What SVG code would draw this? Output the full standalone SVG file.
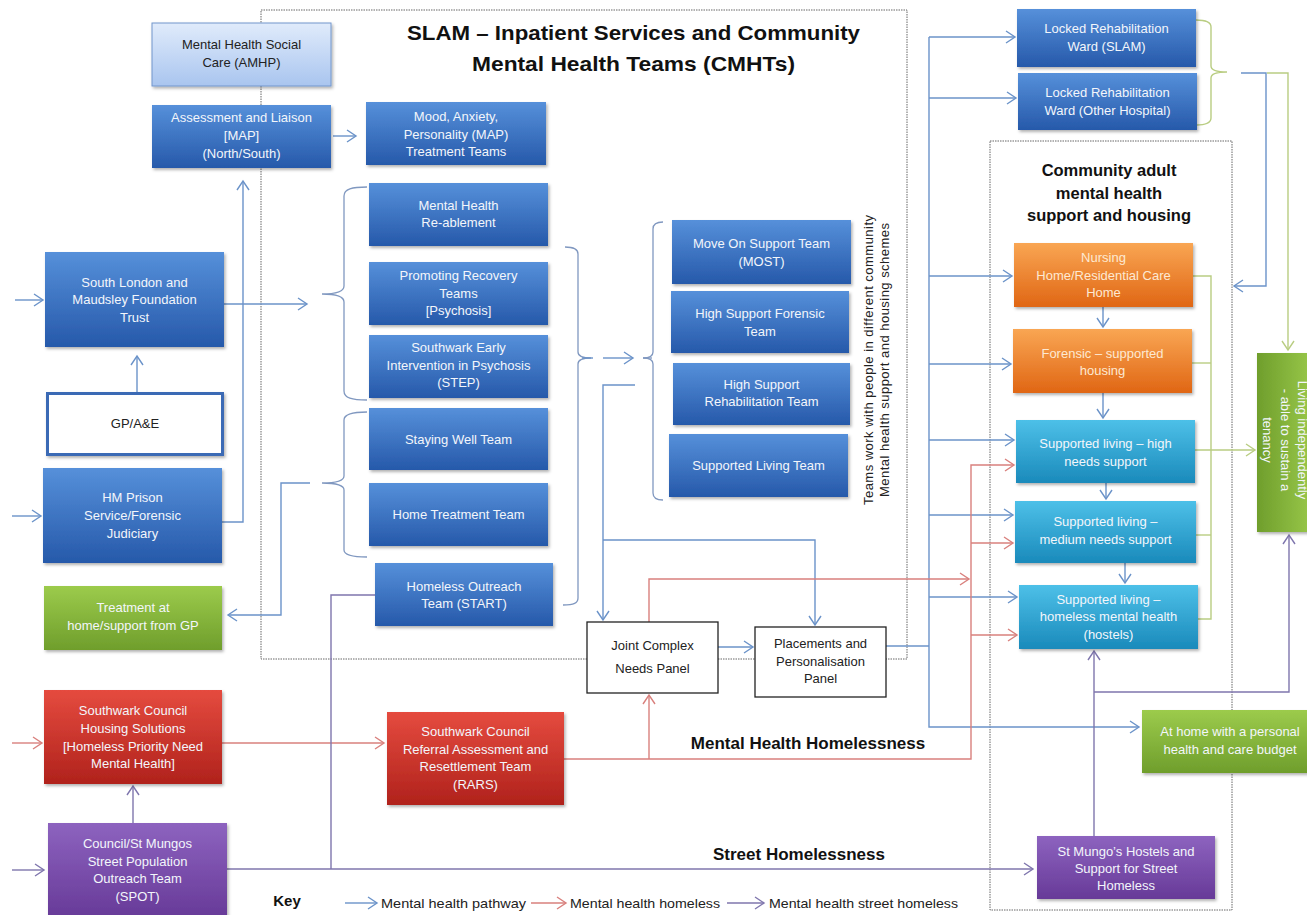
<svg xmlns="http://www.w3.org/2000/svg" width="1307" height="915" viewBox="0 0 1307 915">
<defs>
<linearGradient id="gB" x1="0" y1="0" x2="0" y2="1"><stop offset="0" stop-color="#5690da"/><stop offset="1" stop-color="#2659aa"/></linearGradient>
<linearGradient id="gL" x1="0" y1="0" x2="0" y2="1"><stop offset="0" stop-color="#e0ebfb"/><stop offset="1" stop-color="#a9c5ef"/></linearGradient>
<linearGradient id="gO" x1="0" y1="0" x2="0" y2="1"><stop offset="0" stop-color="#f9a653"/><stop offset="1" stop-color="#e06614"/></linearGradient>
<linearGradient id="gC" x1="0" y1="0" x2="0" y2="1"><stop offset="0" stop-color="#4dc0e8"/><stop offset="1" stop-color="#1a8abb"/></linearGradient>
<linearGradient id="gG" x1="0" y1="0" x2="0" y2="1"><stop offset="0" stop-color="#9ccb4c"/><stop offset="1" stop-color="#6f9e2c"/></linearGradient>
<linearGradient id="gGr" x1="1" y1="0" x2="0" y2="0"><stop offset="0" stop-color="#9ccb4c"/><stop offset="1" stop-color="#6f9e2c"/></linearGradient>
<linearGradient id="gR" x1="0" y1="0" x2="0" y2="1"><stop offset="0" stop-color="#e54b3f"/><stop offset="1" stop-color="#b0221c"/></linearGradient>
<linearGradient id="gP" x1="0" y1="0" x2="0" y2="1"><stop offset="0" stop-color="#8d63bf"/><stop offset="1" stop-color="#673a98"/></linearGradient>
<filter id="sh" x="-5%" y="-5%" width="115%" height="125%"><feDropShadow dx="1.5" dy="2" stdDeviation="1.5" flood-color="#000" flood-opacity="0.3"/></filter>
<marker id="aB" markerWidth="12" markerHeight="14" refX="10" refY="7" orient="auto" markerUnits="userSpaceOnUse"><path d="M1,1 L10,7 L1,13" fill="none" stroke="#6b93c9" stroke-width="1.4"/></marker>
<marker id="aR" markerWidth="12" markerHeight="14" refX="10" refY="7" orient="auto" markerUnits="userSpaceOnUse"><path d="M1,1 L10,7 L1,13" fill="none" stroke="#d9807d" stroke-width="1.4"/></marker>
<marker id="aP" markerWidth="12" markerHeight="14" refX="10" refY="7" orient="auto" markerUnits="userSpaceOnUse"><path d="M1,1 L10,7 L1,13" fill="none" stroke="#7f76ad" stroke-width="1.4"/></marker>
<marker id="aG" markerWidth="12" markerHeight="14" refX="10" refY="7" orient="auto" markerUnits="userSpaceOnUse"><path d="M1,1 L10,7 L1,13" fill="none" stroke="#b9cd82" stroke-width="1.4"/></marker>
<style>
.t{font-family:"Liberation Sans",Arial,sans-serif;font-size:13px;fill:#f3f6fb;text-anchor:middle}
.td{fill:#222}
.to{fill:#fde9d2}
.h{font-family:"Liberation Sans",Arial,sans-serif;font-weight:bold;fill:#111;text-anchor:middle}
.k{font-family:"Liberation Sans",Arial,sans-serif;font-size:13px;fill:#222}
.bx{filter:url(#sh)}
.dot{fill:none;stroke:#666;stroke-width:1;stroke-dasharray:1.5 1}
.cB{fill:none;stroke:#6b93c9;stroke-width:1.4}
.cR{fill:none;stroke:#d9807d;stroke-width:1.4}
.cP{fill:none;stroke:#7f76ad;stroke-width:1.4}
.cG{fill:none;stroke:#b9cd82;stroke-width:1.4}
.br{fill:none;stroke:#8098c0;stroke-width:1.3}
</style>
</defs>
<rect width="1307" height="915" fill="#fff"/>

<g id="frames">
<rect class="dot" x="261" y="10" width="646" height="649"/>
<rect class="dot" x="990" y="141" width="242" height="769"/>
</g>

<g id="headings">
<text class="h" font-size="21" x="633.5" y="40" textLength="453" lengthAdjust="spacingAndGlyphs">SLAM – Inpatient Services and Community</text>
<text class="h" font-size="21" x="633.5" y="71" textLength="323" lengthAdjust="spacingAndGlyphs">Mental Health Teams (CMHTs)</text>
<text class="h" font-size="16.5" x="1109" y="176">Community  adult</text>
<text class="h" font-size="16.5" x="1109" y="199">mental health</text>
<text class="h" font-size="16.5" x="1109" y="221">support and housing</text>
<text class="h" font-size="17" x="808" y="749">Mental Health Homelessness</text>
<text class="h" font-size="17" x="799" y="860">Street Homelessness</text>
<text class="t td" font-size="13" transform="rotate(-90 876 360)"><tspan x="876" y="356.5" textLength="290" lengthAdjust="spacing">Teams work with people in different community</tspan><tspan x="876" y="372.5" textLength="274" lengthAdjust="spacing">Mental health support and housing schemes</tspan></text>
</g>

<g id="connectors">
<path class="br" d="M367,187 C352,187 344,189 344,196 L344,286 C344,291 337,294 322,294 C337,294 344,297 344,302 L344,391 C344,398 352,400 367,400"/>
<path class="br" d="M367,412 C352,412 344,414 344,420 L344,476 C344,481 337,483 322,483 C337,483 344,486 344,490 L344,550 C344,555 352,557 367,557"/>
<path class="br" d="M565,247 C574,247 578,249 578,254 L578,352 C578,356 582,358 591,358 C582,358 578,360 578,364 L578,598 C578,603 574,605 563,605"/>
<path class="br" d="M663,222 C656,222 653,224 653,229 L653,352 C653,356 650,358 643,358 C650,358 653,360 653,364 L653,493 C653,498 656,500 663,500"/>
<path class="cG" d="M1196,20 C1206,20 1211,22 1211,27 L1211,66 C1211,70 1216,72 1227,72 C1216,72 1211,74 1211,78 L1211,118 C1211,123 1206,125 1196,125"/>
<path class="cB" d="M15,300 L43,300" marker-end="url(#aB)"/>
<path class="cB" d="M12,516 L41,516" marker-end="url(#aB)"/>
<path class="cB" d="M224,304 L307,304" marker-end="url(#aB)"/>
<path class="cB" d="M137,392 L137,356" marker-end="url(#aB)"/>
<path class="cB" d="M222,522 L243,522 L243,181" marker-end="url(#aB)"/>
<path class="cB" d="M333,136 L356,136" marker-end="url(#aB)"/>
<path class="cB" d="M310,483 L281,483 L281,615 L228,615" marker-end="url(#aB)"/>
<path class="cB" d="M603,358 L633,358" marker-end="url(#aB)"/>
<path class="cB" d="M582,358 L593,358"/>
<path class="br" d="M643,358 L652,358"/>
<path class="cB" d="M635,385 L603,385 L603,620" marker-end="url(#aB)"/>
<path class="cB" d="M603,540 L815,540 L815,625" marker-end="url(#aB)"/>
<path class="cB" d="M718,647 L753,647" marker-end="url(#aB)"/>
<path class="cB" d="M886,646 L929,646"/>
<path class="cB" d="M929,37 L929,727 L1139,727" marker-end="url(#aB)"/>
<path class="cB" d="M929,37 L1015,37" marker-end="url(#aB)"/>
<path class="cB" d="M929,98 L1016,98" marker-end="url(#aB)"/>
<path class="cB" d="M929,276 L1012,276" marker-end="url(#aB)"/>
<path class="cB" d="M929,364 L1011,364" marker-end="url(#aB)"/>
<path class="cB" d="M929,440 L1014,440" marker-end="url(#aB)"/>
<path class="cB" d="M929,515 L1013,515" marker-end="url(#aB)"/>
<path class="cB" d="M929,597 L1017,597" marker-end="url(#aB)"/>
<path class="cB" d="M1103,307 L1103,327" marker-end="url(#aB)"/>
<path class="cB" d="M1103,393 L1103,418" marker-end="url(#aB)"/>
<path class="cB" d="M1106,483 L1106,499" marker-end="url(#aB)"/>
<path class="cB" d="M1125,563 L1125,583" marker-end="url(#aB)"/>
<path class="cB" d="M1241,73 L1266,73 L1266,286 L1234,286" marker-end="url(#aB)"/>
<path class="cG" d="M1267,73 L1288,73 L1288,350" marker-end="url(#aG)"/>
<path class="cG" d="M1193,276 L1211,276 L1211,619 L1198,619"/>
<path class="cG" d="M1192,363 L1211,363"/>
<path class="cG" d="M1196,535 L1211,535"/>
<path class="cG" d="M1195,450 L1255,450" marker-end="url(#aG)"/>
<path class="cR" d="M12,743 L42,743" marker-end="url(#aR)"/>
<path class="cR" d="M222,743 L384,743" marker-end="url(#aR)"/>
<path class="cR" d="M564,759 L971,759 L971,465 L1014,465" marker-end="url(#aR)"/>
<path class="cR" d="M649,759 L649,695" marker-end="url(#aR)"/>
<path class="cR" d="M649,622 L649,579 L969,579" marker-end="url(#aR)"/>
<path class="cR" d="M971,543 L1013,543" marker-end="url(#aR)"/>
<path class="cR" d="M971,635 L1017,635" marker-end="url(#aR)"/>
<path class="cP" d="M12,870 L44,870" marker-end="url(#aP)"/>
<path class="cP" d="M133,823 L133,786" marker-end="url(#aP)"/>
<path class="cP" d="M227,869 L1033,869" marker-end="url(#aP)"/>
<path class="cP" d="M331,869 L331,595 L375,595"/>
<path class="cP" d="M1094,836 L1094,651" marker-end="url(#aP)"/>
<path class="cP" d="M1094,692 L1289,692 L1289,535" marker-end="url(#aP)"/>
</g>

<g id="n-amhp"><rect class="bx" x="152" y="23" width="179" height="63" fill="url(#gL)" stroke="#7396cc" stroke-width="1"/><text class="t td"><tspan x="241.5" y="48.5">Mental Health Social</tspan><tspan x="241.5" y="66.5">Care (AMHP)</tspan></text></g>
<g id="n-assess"><rect class="bx" x="152" y="105" width="179" height="63" fill="url(#gB)"/><text class="t"><tspan x="241.5" y="121.5">Assessment and Liaison</tspan><tspan x="241.5" y="139.5">[MAP]</tspan><tspan x="241.5" y="157.5">(North/South)</tspan></text></g>
<g id="n-mood"><rect class="bx" x="366" y="102" width="180" height="63" fill="url(#gB)"/><text class="t"><tspan x="456" y="120.5">Mood, Anxiety,</tspan><tspan x="456" y="138.5">Personality (MAP)</tspan><tspan x="456" y="155.5">Treatment Teams</tspan></text></g>
<g id="n-reable"><rect class="bx" x="369" y="183" width="179" height="63" fill="url(#gB)"/><text class="t"><tspan x="458.5" y="209.5">Mental Health</tspan><tspan x="458.5" y="226.5">Re-ablement</tspan></text></g>
<g id="n-promo"><rect class="bx" x="369" y="262" width="179" height="63" fill="url(#gB)"/><text class="t"><tspan x="458.5" y="279.5">Promoting Recovery</tspan><tspan x="458.5" y="297.5">Teams</tspan><tspan x="458.5" y="314.5">[Psychosis]</tspan></text></g>
<g id="n-step"><rect class="bx" x="369" y="335" width="179" height="63" fill="url(#gB)"/><text class="t"><tspan x="458.5" y="351.5">Southwark Early</tspan><tspan x="458.5" y="369.5">Intervention in Psychosis</tspan><tspan x="458.5" y="386.5">(STEP)</tspan></text></g>
<g id="n-staying"><rect class="bx" x="369" y="408" width="179" height="62" fill="url(#gB)"/><text class="t"><tspan x="458.5" y="443.5">Staying Well Team</tspan></text></g>
<g id="n-hometreat"><rect class="bx" x="369" y="483" width="179" height="63" fill="url(#gB)"/><text class="t"><tspan x="458.5" y="518.5">Home Treatment Team</tspan></text></g>
<g id="n-start"><rect class="bx" x="375" y="563" width="178" height="63" fill="url(#gB)"/><text class="t"><tspan x="464" y="590.5">Homeless Outreach</tspan><tspan x="464" y="607.5">Team (START)</tspan></text></g>
<g id="n-slam"><rect class="bx" x="45" y="252" width="179" height="95" fill="url(#gB)"/><text class="t"><tspan x="134.5" y="286.5">South London and</tspan><tspan x="134.5" y="303.5">Maudsley Foundation</tspan><tspan x="134.5" y="321.5">Trust</tspan></text></g>
<g id="n-gp"><rect class="bx" x="47.5" y="393.5" width="175" height="61" fill="#fff" stroke="#3a6bb5" stroke-width="3"/><text class="t td"><tspan x="135" y="427.5">GP/A&amp;E</tspan></text></g>
<g id="n-prison"><rect class="bx" x="43" y="468" width="179" height="95" fill="url(#gB)"/><text class="t"><tspan x="132.5" y="501.5">HM Prison</tspan><tspan x="132.5" y="519.5">Service/Forensic</tspan><tspan x="132.5" y="537.5">Judiciary</tspan></text></g>
<g id="n-treat"><rect class="bx" x="44" y="586" width="178" height="64" fill="url(#gG)"/><text class="t"><tspan x="133" y="611.5">Treatment at</tspan><tspan x="133" y="629.5">home/support from GP</tspan></text></g>
<g id="n-housing"><rect class="bx" x="44" y="690" width="178" height="94" fill="url(#gR)"/><text class="t"><tspan x="133" y="714.5">Southwark Council</tspan><tspan x="133" y="732.5">Housing Solutions</tspan><tspan x="133" y="750.5">[Homeless Priority Need</tspan><tspan x="133" y="767.5">Mental Health]</tspan></text></g>
<g id="n-spot"><rect class="bx" x="48" y="823" width="179" height="95" fill="url(#gP)"/><text class="t"><tspan x="137.5" y="847.5">Council/St Mungos</tspan><tspan x="137.5" y="865.5">Street Population</tspan><tspan x="137.5" y="882.5">Outreach Team</tspan><tspan x="137.5" y="900.5">(SPOT)</tspan></text></g>
<g id="n-rars"><rect class="bx" x="387" y="712" width="177" height="93" fill="url(#gR)"/><text class="t"><tspan x="475.5" y="735.5">Southwark Council</tspan><tspan x="475.5" y="753.5">Referral Assessment and</tspan><tspan x="475.5" y="770.5">Resettlement Team</tspan><tspan x="475.5" y="788.5">(RARS)</tspan></text></g>
<g id="n-jcnp"><rect x="587" y="622" width="131" height="71" fill="#fff" stroke="#222" stroke-width="1.3"/><text class="t td" font-size="12.5"><tspan x="652.5" y="649.5">Joint Complex</tspan><tspan x="652.5" y="672.5">Needs Panel</tspan></text></g>
<g id="n-ppp"><rect x="755" y="627" width="131" height="70" fill="#fff" stroke="#222" stroke-width="1.3"/><text class="t td" font-size="12.5"><tspan x="820.5" y="647.5">Placements and</tspan><tspan x="820.5" y="665.5">Personalisation</tspan><tspan x="820.5" y="682.5">Panel</tspan></text></g>
<g id="n-most"><rect class="bx" x="672" y="220" width="179" height="64" fill="url(#gB)"/><text class="t"><tspan x="761.5" y="247.5">Move On Support Team</tspan><tspan x="761.5" y="265.5">(MOST)</tspan></text></g>
<g id="n-hsf"><rect class="bx" x="671" y="291" width="178" height="62" fill="url(#gB)"/><text class="t"><tspan x="760" y="317.5">High Support Forensic</tspan><tspan x="760" y="335.5">Team</tspan></text></g>
<g id="n-hsr"><rect class="bx" x="673" y="363" width="177" height="62" fill="url(#gB)"/><text class="t"><tspan x="761.5" y="388.5">High Support</tspan><tspan x="761.5" y="405.5">Rehabilitation Team</tspan></text></g>
<g id="n-slt"><rect class="bx" x="669" y="434" width="179" height="63" fill="url(#gB)"/><text class="t"><tspan x="758.5" y="469.5">Supported Living Team</tspan></text></g>
<g id="n-lrs"><rect class="bx" x="1017" y="9" width="179" height="58" fill="url(#gB)"/><text class="t"><tspan x="1106.5" y="32.5">Locked Rehabilitation</tspan><tspan x="1106.5" y="50.5">Ward (SLAM)</tspan></text></g>
<g id="n-lro"><rect class="bx" x="1018" y="73" width="179" height="57" fill="url(#gB)"/><text class="t"><tspan x="1107.5" y="96.5">Locked Rehabilitation</tspan><tspan x="1107.5" y="114.5">Ward (Other Hospital)</tspan></text></g>
<g id="n-nursing"><rect class="bx" x="1014" y="243" width="179" height="64" fill="url(#gO)"/><text class="t to"><tspan x="1103.5" y="261.5">Nursing</tspan><tspan x="1103.5" y="279.5">Home/Residential Care</tspan><tspan x="1103.5" y="296.5">Home</tspan></text></g>
<g id="n-forensic"><rect class="bx" x="1013" y="329" width="179" height="64" fill="url(#gO)"/><text class="t to"><tspan x="1102.5" y="357.5">Forensic – supported</tspan><tspan x="1102.5" y="374.5">housing</tspan></text></g>
<g id="n-slh"><rect class="bx" x="1016" y="420" width="179" height="63" fill="url(#gC)"/><text class="t"><tspan x="1105.5" y="447.5">Supported living – high</tspan><tspan x="1105.5" y="465.5">needs support</tspan></text></g>
<g id="n-slm"><rect class="bx" x="1015" y="501" width="181" height="62" fill="url(#gC)"/><text class="t"><tspan x="1105.5" y="525.5">Supported living –</tspan><tspan x="1105.5" y="543.5">medium needs support</tspan></text></g>
<g id="n-slhm"><rect class="bx" x="1019" y="585" width="179" height="64" fill="url(#gC)"/><text class="t"><tspan x="1108.5" y="603.5">Supported living –</tspan><tspan x="1108.5" y="620.5">homeless mental health</tspan><tspan x="1108.5" y="638.5">(hostels)</tspan></text></g>
<g id="n-living"><rect class="bx" x="1257" y="353" width="60" height="179" fill="url(#gGr)"/><text class="t" transform="rotate(90 1290 440)"><tspan x="1290" y="432.5">Living independently</tspan><tspan x="1290" y="449.5">- able to sustain a</tspan><tspan x="1290" y="467.5">tenancy</tspan></text></g>
<g id="n-athome"><rect class="bx" x="1142" y="710" width="175" height="63" fill="url(#gG)"/><text class="t"><tspan x="1230" y="735.5">At home with a personal</tspan><tspan x="1230" y="753.5">health and care budget</tspan></text></g>
<g id="n-stmungo"><rect class="bx" x="1037" y="836" width="178" height="63" fill="url(#gP)"/><text class="t"><tspan x="1126" y="855.5">St Mungo’s Hostels and</tspan><tspan x="1126" y="872.5">Support for Street</tspan><tspan x="1126" y="889.5">Homeless</tspan></text></g>

<g id="key">
<text class="h" font-size="15" x="287" y="906">Key</text>
<path class="cB" d="M345,903 L377,903" marker-end="url(#aB)"/>
<text class="k" x="381" y="907.5" textLength="145" lengthAdjust="spacingAndGlyphs">Mental health pathway</text>
<path class="cR" d="M531,903 L566,903" marker-end="url(#aR)"/>
<text class="k" x="570" y="907.5" textLength="150" lengthAdjust="spacingAndGlyphs">Mental health homeless</text>
<path class="cP" d="M727,903 L764,903" marker-end="url(#aP)"/>
<text class="k" x="769" y="907.5" textLength="189" lengthAdjust="spacingAndGlyphs">Mental health street homeless</text>
</g>
</svg>
